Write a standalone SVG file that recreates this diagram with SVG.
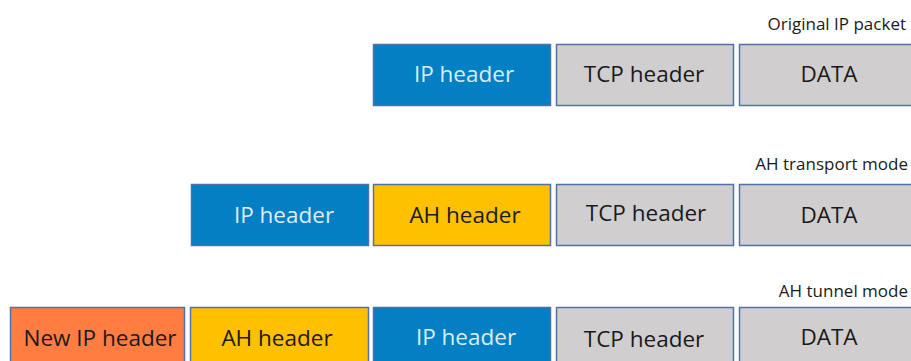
<svg xmlns="http://www.w3.org/2000/svg" width="911" height="361" viewBox="0 0 911 361">
  <style>
    .box { stroke: #4f72a8; stroke-width: 1.5; }
    .ip { fill: #0280c3; }
    .grey { fill: #d0cecf; }
    .ah { fill: #ffc000; }
    .newip { fill: #ff7d41; }
    .t { font-family: "Open Sans", "Noto Sans", sans-serif; font-size: 22.5px; text-anchor: middle; fill: #1a1a1a; }
    .tl { fill: #dcedf6; }
    .cap { font-family: "Open Sans", "Noto Sans", sans-serif; font-size: 17px; text-anchor: end; fill: #1a1a1a; }
  </style>
  <rect width="911" height="361" fill="#ffffff"/>

  <!-- Original IP packet -->
  <text class="cap" x="906" y="30">Original IP packet</text>
  <g id="orig-ip">
    <rect class="box ip" x="373.5" y="44.5" width="177" height="61"/>
    <text class="t tl" x="464" y="82">IP header</text>
  </g>
  <g id="orig-tcp">
    <rect class="box grey" x="556.5" y="44.5" width="177" height="61"/>
    <text class="t" x="644" y="82">TCP header</text>
  </g>
  <g id="orig-data">
    <rect class="box grey" x="739.5" y="44.5" width="180" height="61"/>
    <text class="t" x="829" y="82">DATA</text>
  </g>

  <!-- AH transport mode -->
  <text class="cap" x="908" y="170">AH transport mode</text>
  <g id="tr-ip">
    <rect class="box ip" x="191.5" y="184.5" width="177" height="61"/>
    <text class="t tl" x="284" y="223">IP header</text>
  </g>
  <g id="tr-ah">
    <rect class="box ah" x="373.5" y="184.5" width="177" height="61"/>
    <text class="t" x="465" y="223">AH header</text>
  </g>
  <g id="tr-tcp">
    <rect class="box grey" x="556.5" y="184.5" width="177" height="61"/>
    <text class="t" x="646" y="221">TCP header</text>
  </g>
  <g id="tr-data">
    <rect class="box grey" x="739.5" y="184.5" width="180" height="61"/>
    <text class="t" x="829" y="223">DATA</text>
  </g>

  <!-- AH tunnel mode -->
  <text class="cap" x="908" y="297">AH tunnel mode</text>
  <g id="tu-newip">
    <rect class="box newip" x="10.5" y="307.5" width="174" height="61"/>
    <text class="t" x="100" y="346">New IP header</text>
  </g>
  <g id="tu-ah">
    <rect class="box ah" x="190.5" y="307.5" width="178" height="61"/>
    <text class="t" x="277" y="346">AH header</text>
  </g>
  <g id="tu-ip">
    <rect class="box ip" x="373.5" y="307.5" width="177" height="61"/>
    <text class="t tl" x="466" y="345">IP header</text>
  </g>
  <g id="tu-tcp">
    <rect class="box grey" x="556.5" y="307.5" width="177" height="61"/>
    <text class="t" x="644" y="347">TCP header</text>
  </g>
  <g id="tu-data">
    <rect class="box grey" x="739.5" y="307.5" width="180" height="61"/>
    <text class="t" x="829" y="345">DATA</text>
  </g>

  <g id="connectors"/>
</svg>
